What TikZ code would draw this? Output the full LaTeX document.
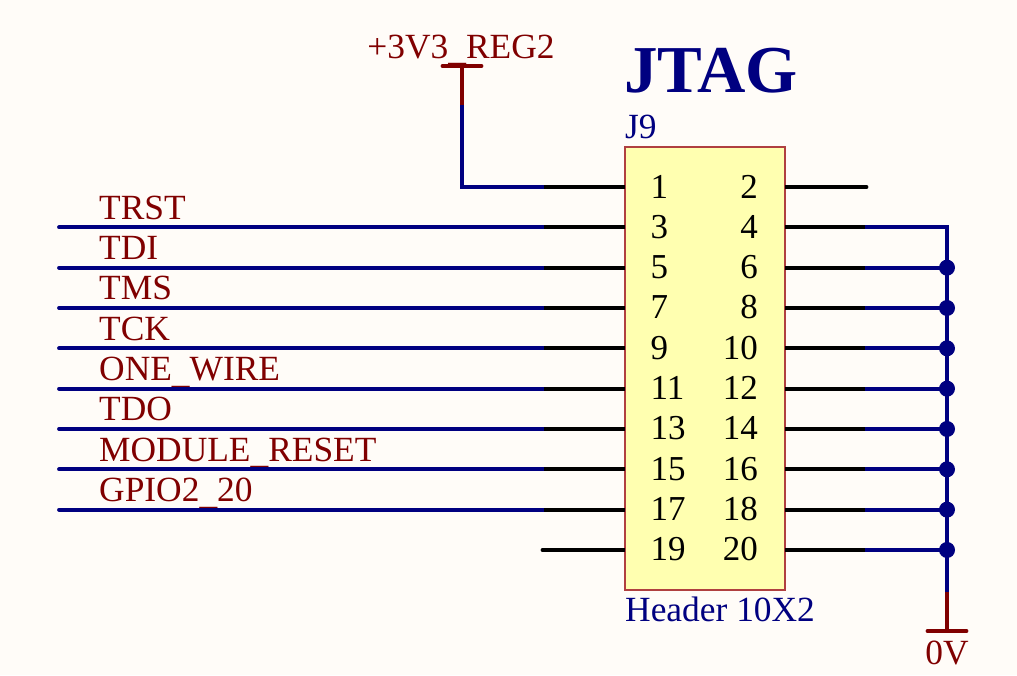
\documentclass[tikz,border=0pt]{standalone}
\usepackage{fontspec}
\setmainfont{Liberation Serif}
\definecolor{sheet}{HTML}{FFFCF8}
\definecolor{wire}{HTML}{000080}
\definecolor{power}{HTML}{800000}
\definecolor{body}{HTML}{FFFFB0}
\definecolor{edge}{HTML}{B04040}
\newcommand{\lowbar}{\raisebox{-2.6pt}{\_}}
\tikzset{
  wirenet/.style={wire,line width=3.8pt,line cap=round,line join=miter},
  pinstub/.style={black,line width=3.8pt,line cap=butt},
  powernet/.style={power,line width=3.8pt,line cap=round},
  netlabel/.style={anchor=base west,inner sep=0pt,text=power,font=\fontsize{35.4}{35.4}\selectfont},
  pinlabel/.style={inner sep=0pt,text=black,font=\fontsize{35}{35}\selectfont},
  partlabel/.style={anchor=base west,inner sep=0pt,text=wire,font=\fontsize{35.4}{35.4}\selectfont},
  junction/.style={circle,fill=wire,inner sep=0pt,minimum size=16pt},
}
\begin{document}
\begin{tikzpicture}[x=1pt,y=-1pt]
    % Sheet
    \fill[sheet] (0,0) rectangle (1017,675);
    \useasboundingbox (0,0) rectangle (1017,675);
    % Header body
    \node[draw=edge,fill=body,line width=1.6pt,outer sep=0pt,minimum width=160pt,minimum height=443pt,inner sep=0pt,anchor=north west] (header) at (625,147) {};
    \node[anchor=base west,inner sep=0pt,text=wire,font=\fontsize{67}{67}\selectfont\bfseries] (title) at (624,92) {JTAG};
    \node[partlabel] (refdes) at (625,138) {J9};
    \node[partlabel] (partname) at (625,621) {Header 10X2};
    % Net labels, drawn under the wires
    \foreach \row/\name in {1/TRST,2/TDI,3/TMS,4/TCK,5/ONE\lowbar WIRE,6/TDO,7/MODULE\lowbar RESET,8/GPIO2\lowbar 20} {
      \pgfmathsetmacro{\ypos}{187+40.33*\row}
      \node[netlabel] (net\row) at (99,\ypos-8) {\name};
    }
    \node[netlabel,anchor=base] (vcclabel) at (461,58) {+3V3\lowbar REG2};
    \node[netlabel,anchor=base] (gndlabel) at (947,664) {0V};
    % Pins
    \foreach \row in {0,...,9} {
      \pgfmathsetmacro{\ypos}{187+40.33*\row}
      \pgfmathtruncatemacro{\odd}{2*\row+1}
      \pgfmathtruncatemacro{\even}{2*\row+2}
      \coordinate (pin\odd) at (625,\ypos);
      \coordinate (pin\even) at (785,\ypos);
      \coordinate (stub\odd) at (544,\ypos);
      \coordinate (stub\even) at (865,\ypos);
      \coordinate (end\odd) at (59,\ypos);
      \coordinate (tap\even) at (947,\ypos);
      \node[pinlabel,anchor=base west] (num\odd) at (650.5,\ypos+11) {\odd};
      \node[pinlabel,anchor=base east] (num\even) at (758,\ypos+11) {\even};
    }
    % Signal wires
    \foreach \n in {3,5,...,17} {
      \draw[wirenet] (stub\n) -- (end\n);
    }
    \foreach \n in {6,8,...,20} {
      \draw[wirenet] (stub\n) -- (tap\n);
      \node[junction] (dot\n) at (tap\n) {};
    }
    % Supply
    \coordinate (vccbar) at (462,66);
    \coordinate (vccwire) at (462,105);
    \coordinate (gndwire) at (947,592);
    \coordinate (gndbar) at (947,631);
    \draw[wirenet] (stub1) -| (vccwire);
    \draw[powernet,line cap=butt] (vccwire) -- (vccbar);
    \draw[powernet] ([xshift=-19.5pt]vccbar) -- ([xshift=19.5pt]vccbar);
    \draw[wirenet] (stub4) -| (gndwire);
    \draw[powernet,line cap=butt] (gndwire) -- (gndbar);
    \draw[powernet] ([xshift=-19.5pt]gndbar) -- ([xshift=19.5pt]gndbar);
    % Pin stubs
    \foreach \n in {1,3,...,19} {
      \draw[pinstub] (pin\n) -- (stub\n);
    }
    \foreach \n in {2,4,...,20} {
      \draw[pinstub] (pin\n) -- (stub\n);
    }
    % Open ends
    \draw[pinstub,line cap=round] (stub19) -- ++(-1.5,0);
    \draw[pinstub,line cap=round] (stub2) -- ++(1.5,0);
\end{tikzpicture}
\end{document}
